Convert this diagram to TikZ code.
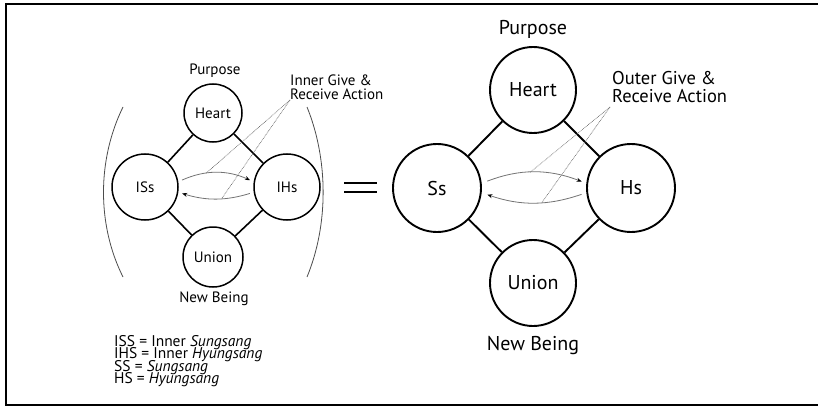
\documentclass[tikz,border=0pt]{standalone}
\usepackage{fontspec}
\setmainfont{PT Sans}
\usetikzlibrary{arrows.meta}
\newcommand{\tightlines}{\lineskiplimit=-100pt\relax}
\tikzset{
  ring/.style={draw, circle, inner sep=0pt},
  inring/.style={ring, line width=1.5pt, font=\fontsize{15}{15}\selectfont},
  outring/.style={ring, line width=1.9pt, font=\fontsize{20}{20}\selectfont},
  inlbl/.style={inner sep=0pt, anchor=base, font=\fontsize{15}{15}\selectfont},
  outlbl/.style={inner sep=0pt, anchor=base, font=\fontsize{20}{20}\selectfont},
  keylbl/.style={inner sep=0pt, anchor=base west, font=\fontsize{15.5}{15.5}\selectfont},
  bond/.style={line width=1.6pt},
  give/.style={black!55, line width=0.8pt, -{Stealth[length=5pt,width=4pt,black]}},
  hint/.style={black!60, line width=0.6pt, dash pattern=on 0.8pt off 0.8pt},
  paren/.style={black!70, line width=0.8pt}
}
\begin{document}
\begin{tikzpicture}[x=1pt,y=-1pt]
  \useasboundingbox (0,0) rectangle (818,406);
  \draw[line width=1.5pt] (818,4) -- (6,4) -- (6,405) -- (818,405);
  % inner give and receive
  \node[inring, minimum size=58pt] (lheart) at (213,113) {Heart};
  \node[inring, minimum size=66pt] (liss) at (145,187) {ISs};
  \node[inring, minimum size=66pt] (lihs) at (287,187) {IHs};
  \node[inring, minimum size=60pt] (lunion) at (213,257) {Union};
  \node[inlbl] (lpurpose) at (215,75) {Purpose};
  \node[inlbl] (lbeing) at (214,302) {New Being};
  \node[inlbl, anchor=base west, align=left, font=\fontsize{15}{14}\selectfont\tightlines] (linner) at (290,100) {Inner Give \&\\Receive Action};
  \coordinate (lhint) at (290,100);
  \draw[bond] (lheart) -- (liss);
  \draw[bond] (lheart) -- (lihs);
  \draw[bond] (lunion) -- (liss);
  \draw[bond] (lunion) -- (lihs);
  \draw[give, shorten <=4pt, shorten >=4pt] (liss.9) to[bend left=24] coordinate[pos=.36] (lgive) (lihs.171);
  \draw[give, shorten <=4pt, shorten >=4pt] (lihs.-171) to[bend left=17] coordinate[pos=.42] (lrecv) (liss.-9);
  \draw[hint] (lhint) -- (lgive);
  \draw[hint] (lhint) -- (lrecv);
  \draw[paren] (123,107) .. controls (97,160) and (97,225) .. (123,277);
  \draw[paren] (307,107) .. controls (328.5,160) and (328.5,225) .. (307,277);
  % equals
  \draw[line width=1.3pt] (344,183) -- (377,183);
  \draw[line width=1.3pt] (344,192) -- (377,192);
  % outer give and receive
  \node[outring, minimum size=86pt] (rheart) at (533,90) {Heart};
  \node[outring, minimum size=88pt] (rss) at (437,188) {Ss};
  \node[outring, minimum size=88pt] (rhs) at (631,188) {Hs};
  \node[outring, minimum size=86pt] (runion) at (533,283) {Union};
  \node[outlbl] (rpurpose) at (533,35) {Purpose};
  \node[outlbl] (rbeing) at (533,350) {New Being};
  \node[outlbl, anchor=base west, align=left, font=\fontsize{18.5}{18}\selectfont\tightlines] (router) at (612,103) {Outer Give \&\\Receive Action};
  \coordinate (rhint) at (610,107);
  \draw[bond, line width=1.9pt] (rheart) -- (rss);
  \draw[bond, line width=1.9pt] (rheart) -- (rhs);
  \draw[bond, line width=1.9pt] (runion) -- (rss);
  \draw[bond, line width=1.9pt] (runion) -- (rhs);
  \draw[give, shorten <=6pt, shorten >=5pt] (rss.6) to[bend left=21] coordinate[pos=.46] (rgive) (rhs.174);
  \draw[give, shorten <=5pt, shorten >=6pt] (rhs.-174) to[bend left=19] coordinate[pos=.42] (rrecv) (rss.-6);
  \draw[hint] (rhint) -- (rgive);
  \draw[hint] (rhint) -- (rrecv);
  % legend
  \node[keylbl] (keyiss) at (114,346) {ISS = Inner \textit{Sungsang}};
  \node[keylbl] (keyihs) at (114,358.5) {IHS = Inner \textit{Hyungsang}};
  \node[keylbl] (keyss) at (114,371) {SS = \textit{Sungsang}};
  \node[keylbl] (keyhs) at (114,383.5) {HS = \textit{Hyungsang}};
\end{tikzpicture}
\end{document}
